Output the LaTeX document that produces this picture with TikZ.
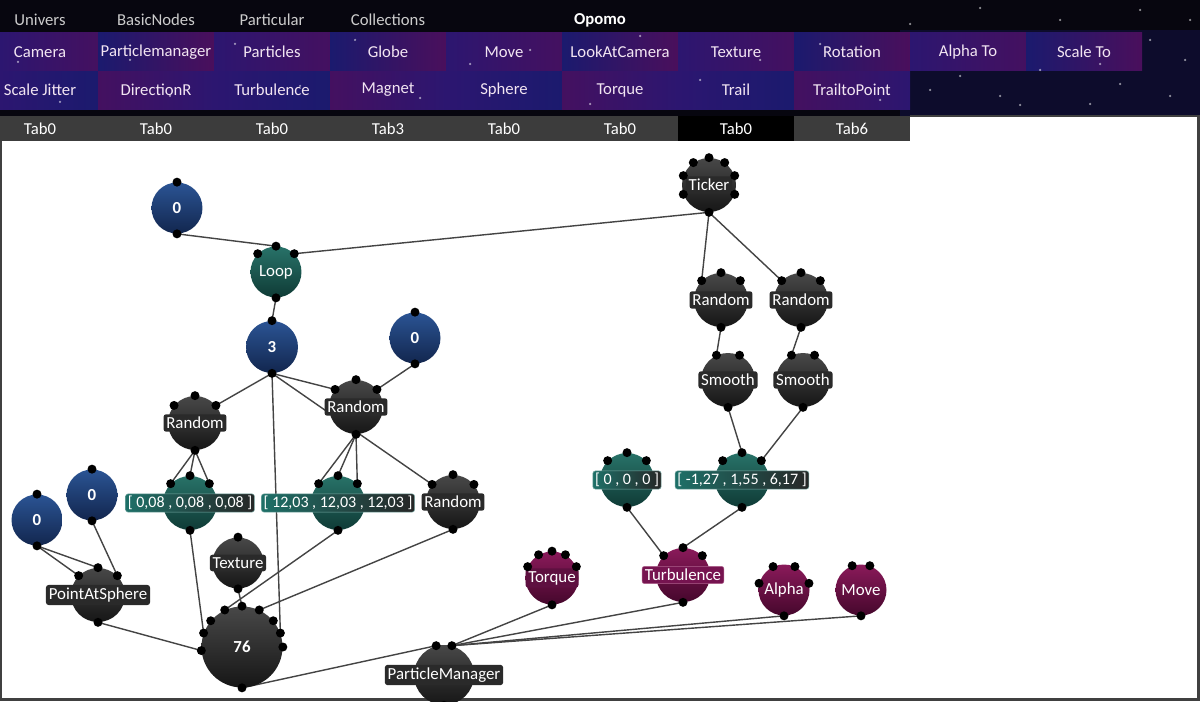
\documentclass[tikz,border=0pt]{standalone}
\usepackage{fontspec}
\setmainfont{Carlito}
\pgfdeclarelayer{bg}
\pgfdeclarelayer{edges}
\pgfsetlayers{bg,edges,main}
\definecolor{skyblack}{HTML}{07060F}
\definecolor{cellA}{HTML}{2C1670}
\definecolor{cellB}{HTML}{4A0F5C}
\definecolor{cellC}{HTML}{1B1A6E}
\definecolor{tabgray}{HTML}{3C3C3C}
\definecolor{bluetop}{HTML}{2B5494}
\definecolor{bluebot}{HTML}{12264E}
\definecolor{tealtop}{HTML}{287268}
\definecolor{tealbot}{HTML}{0F3B36}
\definecolor{tealbox}{HTML}{1E7068}
\definecolor{dktop}{HTML}{484848}
\definecolor{dkbot}{HTML}{161616}
\definecolor{dkbox}{HTML}{2A2A2A}
\definecolor{pptop}{HTML}{8A1A5A}
\definecolor{ppbot}{HTML}{45072C}
\definecolor{ppbox}{HTML}{761450}
\definecolor{wirec}{HTML}{444444}
\newcommand\Ports[2]{\foreach \a in {#2}{\fill[black] (#1.\a) circle[radius=0.09cm];}}
\tikzset{
  ball/.style={circle, inner sep=0pt, minimum size=#1},
  blueb/.style={ball=#1, top color=bluetop, bottom color=bluebot},
  tealb/.style={ball=#1, top color=tealtop, bottom color=tealbot},
  darkb/.style={ball=#1, top color=dktop, bottom color=dkbot},
  purpb/.style={ball=#1, top color=pptop, bottom color=ppbot},
  lbl/.style={rounded corners=1.5pt, inner sep=1.6pt, text=white, font=\fontsize{9.6}{10.5}\selectfont},
  dklbl/.style={lbl, fill=dkbox},
  pplbl/.style={lbl, fill=ppbox, draw=pptop!70!white, line width=0.3pt},
  veclbl/.style={lbl, inner sep=1.3pt, font=\fontsize{9.1}{10}\selectfont, left color=tealbox, right color=black!85, draw=tealbox!60!white, line width=0.3pt},
  numlbl/.style={lbl, font=\fontsize{9.6}{10.5}\selectfont\bfseries},
  wire/.style={draw=wirec, line width=0.8pt},
  menu/.style={text=white!90!violet, font=\fontsize{9.5}{11}\selectfont},
  head/.style={text=white!80!black, font=\fontsize{9.5}{11}\selectfont},
  tabt/.style={text=white, font=\fontsize{9.5}{11}\selectfont}
}
\begin{document}
\begin{tikzpicture}[x=0.02cm,y=-0.02cm]
\useasboundingbox (0,0) rectangle (1200,702);
\begin{pgfonlayer}{bg}
\fill[white] (0,0) rectangle (1200,702);
\fill[skyblack] (0,0) rectangle (1200,116);
\fill[skyblack!70!cellC] (900,30) rectangle (1200,116);
% row 1 cells
\foreach \k in {0,...,9}{
  \pgfmathsetmacro\xa{max(0,-18+116*\k)}
  \pgfmathsetmacro\xb{98+116*\k}
  \ifodd\k
    \shade[left color=cellC, right color=cellB] (\xa,33) rectangle (\xb,71);
  \else
    \shade[left color=cellA, right color=cellB!80!cellA] (\xa,33) rectangle (\xb,71);
  \fi
}
% row 2 cells
\foreach \k in {0,...,7}{
  \pgfmathsetmacro\xa{max(0,-18+116*\k)}
  \pgfmathsetmacro\xb{98+116*\k}
  \ifodd\k
    \shade[left color=cellB!80!cellA, right color=cellA] (\xa,72) rectangle (\xb,110);
  \else
    \shade[left color=cellA, right color=cellC] (\xa,72) rectangle (\xb,110);
  \fi
}
% stars
\foreach \sx/\sy in {18/62,60/102,130/60,170/96,235/44,300/86,355/40,420/98,470/64,530/50,590/104,640/36,700/80,760/60,820/44,880/100,930/90,960/76,1000/96,1040/70,1090/104,1120/84,1150/40,1170/96,1185/60,1140/10,1060/20,980/8,910/24,1190/20,1020/105,1100/64}
  \fill[white, opacity=0.55] (\sx,\sy) circle[radius=0.025cm];
% tabs
\fill[tabgray] (0,116) rectangle (910,141);
\fill[black] (678,116) rectangle (794,141);
% frame of canvas
\draw[black!75, line width=1.2pt] (910,116) -- (1198.5,116) -- (1198.5,699.5) -- (0.6,699.5) -- (0.6,141);
\end{pgfonlayer}
% header texts
\foreach \t [count=\i from 0] in {Univers,BasicNodes,Particular,Collections}
  \node[head] (h\i) at (40+116*\i,20) {\t};
\node[head, text=white, font=\fontsize{9.5}{11}\selectfont\bfseries] (h4) at (600,20) {Opomo};
\foreach \t [count=\i from 0] in {Camera,Particlemanager,Particles,Globe,Move,LookAtCamera,Texture,Rotation,Alpha To,Scale To}
  \node[menu] (m\i) at (40+116*\i,52) {\t};
\foreach \t [count=\i from 0] in {Scale Jitter,DirectionR,Turbulence,Magnet,Sphere,Torque,Trail,TrailtoPoint}
  \node[menu] (n\i) at (40+116*\i,90) {\t};
\foreach \t [count=\i from 0] in {Tab0,Tab0,Tab0,Tab3,Tab0,Tab0,Tab0,Tab6}
  \node[tabt] (t\i) at (40+116*\i,128.5) {\t};

% ---------- nodes ----------
\node[blueb=1.02cm] (zeroA) at (177,208) {};
\node[numlbl] (zeroA-t) at (zeroA) {0};
\Ports{zeroA}{90,270}

\node[tealb=1.02cm] (loop) at (276,272) {};
\node[lbl] (loop-t) at (loop) {Loop};
\Ports{loop}{135,90,45,270}

\node[blueb=1.04cm] (three) at (272,347) {};
\node[numlbl] (three-t) at (three) {3};
\Ports{three}{90,270}

\node[blueb=1.02cm] (zeroB) at (415,338) {};
\node[numlbl] (zeroB-t) at (zeroB) {0};
\Ports{zeroB}{90,270}

\node[darkb=1.08cm] (randL) at (195,423) {};
\node[dklbl] (randL-t) at (randL) {Random};
\Ports{randL}{140,90,40,270}

\node[darkb=1.08cm] (randM) at (356,407) {};
\node[dklbl] (randM-t) at (randM) {Random};
\Ports{randM}{140,90,40,270}

\node[tealb=1.08cm] (vecA) at (190,503) {};
\node[veclbl] (vecA-t) at (vecA) {[ 0,08 , 0,08 , 0,08 ]};
\Ports{vecA}{135,90,45,270}

\node[tealb=1.08cm] (vecB) at (338,503) {};
\node[veclbl] (vecB-t) at (vecB) {[ 12,03 , 12,03 , 12,03 ]};
\Ports{vecB}{135,90,45,270}

\node[darkb=1.08cm] (randS) at (453,502) {};
\node[dklbl] (randS-t) at (randS) {Random};
\Ports{randS}{140,90,40,270}

\node[darkb=1.02cm] (texture) at (238,563) {};
\node[dklbl] (texture-t) at (texture) {Texture};
\Ports{texture}{90,270}

\node[blueb=1.02cm] (zeroL) at (37,520) {};
\node[numlbl] (zeroL-t) at (zeroL) {0};
\Ports{zeroL}{90,270}

\node[blueb=1.02cm] (zeroM) at (92,495) {};
\node[numlbl] (zeroM-t) at (zeroM) {0};
\Ports{zeroM}{90,270}

\node[darkb=1.08cm] (pas) at (98,595) {};
\node[dklbl] (pas-t) at (pas) {PointAtSphere};
\Ports{pas}{135,90,45,270}

\node[darkb=1.62cm] (big) at (242,647) {};
\node[numlbl] (big-t) at (big) {76};
\Ports{big}{185,160,140,115,90,65,40,20,0,270}

\node[darkb=1.2cm] (pm) at (444,675) {};
\node[dklbl] (pm-t) at (pm) {ParticleManager};
\Ports{pm}{105,75,270}

\node[purpb=1.06cm] (torque) at (552,578) {};
\node[lbl, fill=ppbox!80!black] (torque-t) at (torque) {Torque};
\Ports{torque}{155,120,90,60,25,270}

\node[purpb=1.08cm] (turb) at (683,575) {};
\node[pplbl] (turb-t) at (turb) {Turbulence};
\Ports{turb}{135,90,45,270}

\node[purpb=1.02cm] (alpha) at (784,590) {};
\node[numlbl, font=\fontsize{9.6}{10.5}\selectfont] (alpha-t) at (alpha) {Alpha};
\Ports{alpha}{165,115,65,15,270}

\node[purpb=1.02cm] (move) at (861,590) {};
\node[numlbl, font=\fontsize{9.6}{10.5}\selectfont] (move-t) at (move) {Move};
\Ports{move}{110,70,270}

\node[darkb=1.08cm] (ticker) at (709,185) {};
\node[dklbl] (ticker-t) at (ticker) {Ticker};
\Ports{ticker}{90,125,55,160,20,200,-20,270}

\node[darkb=1.08cm] (r1) at (721,300) {};
\node[dklbl] (r1-t) at (r1) {Random};
\Ports{r1}{135,90,45,270}

\node[darkb=1.08cm] (r2) at (801,300) {};
\node[dklbl] (r2-t) at (r2) {Random};
\Ports{r2}{135,90,45,270}

\node[darkb=1.08cm] (s1) at (728,380) {};
\node[dklbl] (s1-t) at (s1) {Smooth};
\Ports{s1}{115,65,270}

\node[darkb=1.08cm] (s2) at (803,380) {};
\node[dklbl] (s2-t) at (s2) {Smooth};
\Ports{s2}{115,65,270}

\node[tealb=1.08cm] (vec0) at (627,480) {};
\node[veclbl] (vec0-t) at (vec0) {[ 0 , 0 , 0 ]};
\Ports{vec0}{135,90,45,270}

\node[tealb=1.08cm] (vecC) at (742,480) {};
\node[veclbl] (vecC-t) at (vecC) {[ -1,27 , 1,55 , 6,17 ]};
\Ports{vecC}{135,90,45,270}

% ---------- wires ----------
\begin{pgfonlayer}{edges}
\draw[wire] (zeroA.270) -- (loop.90);
\draw[wire] (loop.45) -- (ticker.270);
\draw[wire] (loop.270) -- (three.90);
\draw[wire] (three.270) -- (randL.40);
\draw[wire] (three.270) -- (randM.140);
\draw[wire] (three.270) -- (randS.140);
\draw[wire] (three.270) -- (big.20);
\draw[wire] (zeroB.270) -- (randM.40);
\draw[wire] (randL.270) -- (vecA.135);
\draw[wire] (randL.270) -- (vecA.90);
\draw[wire] (randL.270) -- (vecA.45);
\draw[wire] (randM.270) -- (vecB.135);
\draw[wire] (randM.270) -- (vecB.90);
\draw[wire] (randM.270) -- (vecB.45);
\draw[wire] (vecA.270) -- (big.160);
\draw[wire] (vecB.270) -- (big.115);
\draw[wire] (randS.270) -- (big.65);
\draw[wire] (texture.270) -- (big.90);
\draw[wire] (pas.270) -- (big.185);
\draw[wire] (zeroL.270) -- (pas.135);
\draw[wire] (zeroL.270) -- (pas.90);
\draw[wire] (zeroM.270) -- (pas.45);
\draw[wire] (big.270) -- (pm.105);
\draw[wire] (pm.75) -- (torque.270);
\draw[wire] (pm.75) -- (turb.270);
\draw[wire] (pm.75) -- (alpha.270);
\draw[wire] (pm.75) -- (move.270);
\draw[wire] (ticker.270) -- (r1.135);
\draw[wire] (ticker.270) -- (r2.135);
\draw[wire] (r1.270) -- (s1.115);
\draw[wire] (r2.270) -- (s2.115);
\draw[wire] (s1.270) -- (vecC.90);
\draw[wire] (s2.270) -- (vecC.45);
\draw[wire] (vec0.270) -- (turb.135);
\draw[wire] (vecC.270) -- (turb.90);
\end{pgfonlayer}
\end{tikzpicture}
\end{document}
